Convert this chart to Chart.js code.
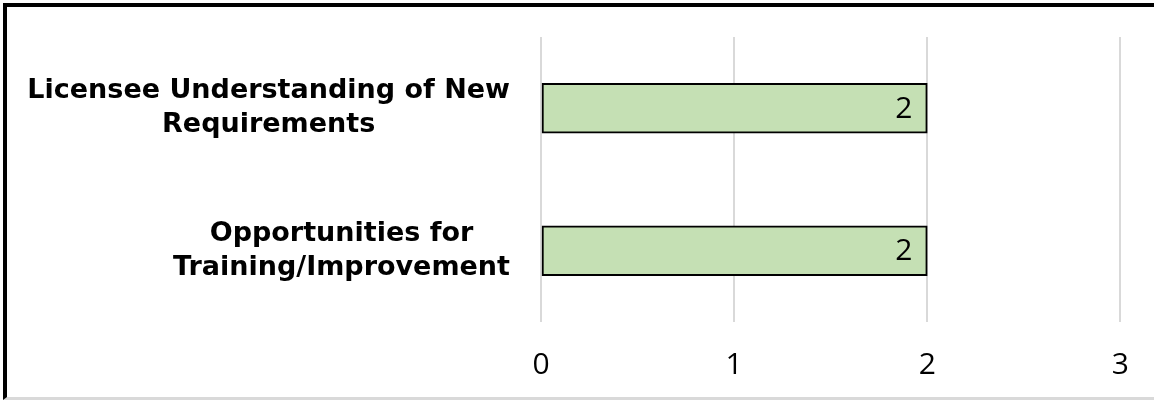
<!DOCTYPE html>
<html>
<head>
<meta charset="utf-8">
<script src="https://cdn.jsdelivr.net/npm/chart.js@4"></script>
<style>
  html, body { margin: 0; padding: 0; background: #fff; }
  #wrap { position: relative; width: 1154px; height: 400px; }
  #frame {
    position: absolute; left: 3px; top: 3px; right: 0; bottom: 0;
    border-left: 4px solid #000; border-top: 4px solid #000;
    border-bottom: 3px solid #d9d9d9; pointer-events: none;
  }
</style>
</head>
<body>
<div id="wrap">
  <canvas id="chart" width="1154" height="400"></canvas>
  <div id="frame"></div>
</div>
<script>
const categories = [
  ['Licensee Understanding of New', 'Requirements'],
  ['Opportunities for', 'Training/Improvement']
];
const values = [2, 2];
const xTicks = [0, 1, 2, 3];

const labelFont = 'bold 27px "DejaVu Sans"';
const numFont = '30px "Open Sans"';

// category labels: centred lines inside a right-aligned block
const catLabels = {
  id: 'catLabels',
  afterDraw(chart) {
    const ctx = chart.ctx;
    const y = chart.scales.y;
    ctx.save();
    ctx.font = labelFont;
    ctx.fillStyle = '#000';
    ctx.textAlign = 'center';
    ctx.textBaseline = 'alphabetic';
    categories.forEach(function (lines, i) {
      const cy = y.getPixelForValue(i);
      const w = Math.max.apply(null, lines.map(l => ctx.measureText(l).width));
      const cx = 510 - w / 2;
      lines.forEach(function (line, j) {
        ctx.fillText(line, cx, cy - 10 + j * 34);
      });
    });
    ctx.restore();
  }
};

// value labels inside the bar end
const valueLabels = {
  id: 'valueLabels',
  afterDatasetsDraw(chart) {
    const ctx = chart.ctx;
    const meta = chart.getDatasetMeta(0);
    ctx.save();
    ctx.font = numFont;
    ctx.fillStyle = '#000';
    ctx.textAlign = 'right';
    ctx.textBaseline = 'middle';
    meta.data.forEach(function (bar, i) {
      ctx.fillText(String(values[i]), bar.x - 15, bar.y + 1);
    });
    ctx.restore();
  }
};

new Chart(document.getElementById('chart'), {
  type: 'bar',
  data: {
    labels: categories,
    datasets: [{
      data: values,
      backgroundColor: '#c5e0b4',
      borderColor: '#000',
      borderWidth: 2,
      borderSkipped: false,
      barThickness: 50
    }]
  },
  options: {
    indexAxis: 'y',
    responsive: false,
    animation: false,
    layout: { padding: { top: 37, right: 28, left: 0, bottom: 0 } },
    plugins: {
      legend: { display: false },
      tooltip: { enabled: false }
    },
    scales: {
      x: {
        min: 0,
        max: 3,
        afterBuildTicks(scale) {
          scale.ticks = xTicks.map(v => ({ value: v }));
        },
        afterFit(scale) { scale.height = 78; },
        grid: { color: '#d9d9d9', lineWidth: 2, drawTicks: false },
        border: { display: false },
        ticks: {
          padding: 25,
          color: '#000',
          font: { family: 'Open Sans', size: 30 }
        }
      },
      y: {
        afterFit(scale) { scale.width = 541; },
        grid: { display: false },
        border: { display: false },
        ticks: { display: false }
      }
    }
  },
  plugins: [catLabels, valueLabels]
});
</script>
</body>
</html>
